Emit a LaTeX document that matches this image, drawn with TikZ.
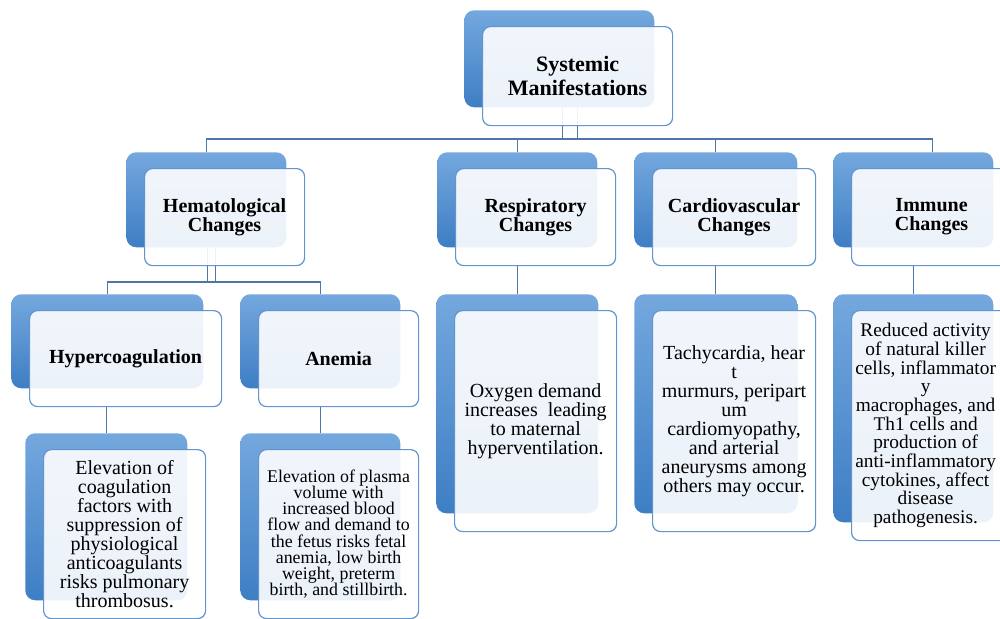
\documentclass[tikz,border=0pt]{standalone}
\usepackage{fontspec}
\setmainfont{Liberation Serif}
\usetikzlibrary{backgrounds}

\definecolor{shadetop}{RGB}{116,168,222}
\definecolor{shadebot}{RGB}{62,126,196}
\definecolor{framecol}{RGB}{98,148,208}
\definecolor{linecol}{RGB}{78,118,168}

\newcommand{\cardtext}{\fontsize{15}{14.25}\selectfont\lineskiplimit=-20pt\relax}
\newcommand{\cardsmall}{\fontsize{13.4}{12.2}\selectfont\lineskiplimit=-20pt\relax}
\newcommand{\cardnarrow}{\fontsize{14.5}{14}\selectfont\lineskiplimit=-20pt\relax}
\newcommand{\cardhead}{\fontsize{15}{14.25}\selectfont\bfseries\lineskiplimit=-20pt\relax}
\newcommand{\cardtop}{\fontsize{16.5}{18}\selectfont\bfseries\lineskiplimit=-20pt\relax}

% name, x, y, width, height, style, text
\newcommand{\card}[7]{%
	\node[shadebox, minimum width = #4*0.75pt, minimum height = #5*0.75pt] (#1S) at (#2,#3) {};
	\node[frontbox, #6, minimum width = #4*0.75pt, minimum height = (#5+2)*0.75pt] (#1) at (#2+18,#3+16) {#7};
}

\tikzset{
	shadebox/.style = {rectangle, anchor = north west, inner sep = 0pt, rounded corners = 7.5pt,
		top color = shadetop, bottom color = shadebot, draw = none},
	frontbox/.style = {rectangle, anchor = north west, inner sep = 0pt, rounded corners = 6pt,
		draw = framecol, line width = 0.9pt, fill = white, fill opacity = 0.9, text opacity = 1,
		align = center, font = \cardtext},
	conn/.style = {draw = linecol, line width = 0.8pt}
}

\begin{document}
\begin{tikzpicture}[x = 0.75pt, y = -0.75pt]

\useasboundingbox (0,0) rectangle (1000,618);
\clip (0,0) rectangle (1000,618);

% Ebene 1
\card{sys}{464}{10}{190}{97}{font = \cardtop}{Systemic\\Manifestations}

% Ebene 2
\card{hema}{126}{152}{160}{95}{font = \cardhead}{Hematological\\Changes}
\card{resp}{437}{152}{160}{95}{font = \cardhead}{Respiratory\\Changes}
\card{card}{634}{152}{163}{95}{font = \cardhead}{Cardiovascular\\Changes}
\card{imm}{833}{152}{160}{95}{font = \cardhead}{Immune\\Changes}

% Ebene 3
\card{hyper}{11}{294}{192}{94}{font = \cardhead}{Hypercoagulation}
\card{anem}{240}{294}{160}{94}{font = \cardhead}{Anemia}
\card{respD}{436}{294}{162}{219}{}{Oxygen demand\\increases~ leading\\to maternal\\hyperventilation.}
\card{cardD}{634}{294}{163}{219}{}{Tachycardia, hear\\t\\murmurs, peripart\\um\\cardiomyopathy,\\and arterial\\aneurysms among\\others may occur.}
\card{immD}{833}{294}{160}{228}{}{}
\node[align = center, font = \cardnarrow, xshift = -4.5pt] (immT) at (immD.center)
	{Reduced activity\\of natural killer\\cells, inflammator\\y\\macrophages, and\\Th1 cells and\\production of\\anti-inflammatory\\cytokines, affect\\disease\\pathogenesis.};

% Ebene 4
\card{hyperD}{25}{433}{162}{167}{}{Elevation of\\coagulation\\factors with\\suppression of\\physiological\\anticoagulants\\risks pulmonary\\thrombosus.}
\card{anemD}{240}{433}{160}{167}{font = \cardsmall}{Elevation of plasma\\volume with\\increased blood\\flow and demand to\\the fetus risks fetal\\anemia, low birth\\weight, preterm\\birth, and stillbirth.}

% Verbindungen
\begin{scope}[on background layer]
	\coordinate (sysbus) at (569,139);
	\coordinate (hemabus) at (206,282);
	\draw[conn] ([xshift = 2.25pt]sysS.south) -- ([xshift = 2.25pt]sysS.south |- sysbus);
	\draw[conn] ([xshift = 13.5pt]sysS.south) -- ([xshift = 13.5pt]sysS.south |- sysbus);
	\draw[conn] (hemaS.north) |- (sysbus) -| ([xshift = 14.25pt]immS.north);
	\draw[conn] (respS.north) -- (respS.north |- sysbus);
	\draw[conn] (cardS.north) -- (cardS.north |- sysbus);

	\draw[conn] ([xshift = 0.75pt]hemaS.south) -- ([xshift = 0.75pt]hemaS.south |- hemabus);
	\draw[conn] ([xshift = 6.75pt]hemaS.south) -- ([xshift = 6.75pt]hemaS.south |- hemabus);
	\draw[conn] (hyperS.north) |- (hemabus) -| (anemS.north);

	\draw[conn] (respDS.north) -- (respDS.north |- resp.south);
	\draw[conn] (cardDS.north) -- (cardDS.north |- card.south);
	\draw[conn] (immDS.north) -- (immDS.north |- imm.south);
	\draw[conn] (hyperDS.north) -- (hyperDS.north |- hyper.south);
	\draw[conn] (anemDS.north) -- (anemDS.north |- anem.south);
\end{scope}

\end{tikzpicture}
\end{document}
